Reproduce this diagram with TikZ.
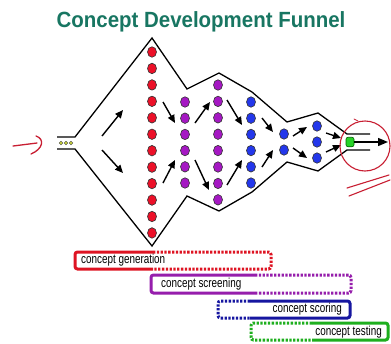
\documentclass[tikz,border=0pt]{standalone}
\usepackage{fontspec}
\setmainfont{Liberation Sans}
\usetikzlibrary{arrows.meta,shapes.geometric}
\definecolor{titlecol}{RGB}{24,118,98}
\definecolor{dred}{RGB}{236,16,40}
\definecolor{dpur}{RGB}{165,24,195}
\definecolor{dblue}{RGB}{35,55,235}
\definecolor{dgreen}{RGB}{40,210,40}
\definecolor{bred}{RGB}{222,20,35}
\definecolor{bpur}{RGB}{150,30,172}
\definecolor{bblue}{RGB}{22,22,160}
\definecolor{bgreen}{RGB}{30,175,30}
\definecolor{ink}{RGB}{200,30,50}
\definecolor{seed}{RGB}{200,210,60}
\begin{document}
\begin{tikzpicture}[x=1pt,y=-1pt,
  funnel/.style={draw=black,line width=1.3pt,line join=miter},
  dotnode/.style={ellipse,minimum width=9pt,minimum height=10.5pt,inner sep=0pt,draw=black!80,line width=0.6pt},
  rdot/.style={dotnode,fill=dred},
  pdot/.style={dotnode,fill=dpur},
  bdot/.style={dotnode,fill=dblue},
  arr/.style={line width=1.4pt,-{Triangle[length=8pt,width=7pt]}},
  bar/.style={line width=3pt,rounded corners=2.5pt},
  dots/.style={dash pattern=on 2.3pt off 1.5pt},
  bartext/.style={inner sep=0pt,font=\fontsize{13}{15}\selectfont},
  note/.style={draw=ink,line width=1.3pt,line cap=round}]
\useasboundingbox (0,0) rectangle (391,343);
\fill[white] (0,0) rectangle (391,343);
% title
\node[text=titlecol,font=\fontsize{22}{24}\selectfont\bfseries] (title) at (201,22) {\scalebox{0.93}[1]{Concept Development Funnel}};
% funnel outline
\draw[funnel] (57,137) -- (75,137) -- (152,38) -- (187,89) -- (219,73) -- (252,92) -- (287,122) -- (318,113) -- (347,134) -- (370,134);
\draw[funnel] (57,149) -- (75,149) -- (152,246) -- (187,196) -- (219,211) -- (252,192) -- (287,162) -- (318,171) -- (347,150) -- (370,150);
% seeds in tube
\foreach \x [count=\k] in {61,66,71}
  \node[circle,minimum size=3.8pt,inner sep=0pt,fill=seed,draw=black!70,line width=0.4pt] (s\k) at (\x,143) {};
% dots
\foreach \i in {0,...,11} \node[rdot] (r\i) at (152,{52+16.45*\i}) {};
\foreach \i in {0,...,5} \node[pdot] (pa\i) at (185,{102+16.2*\i}) {};
\foreach \i in {0,...,7} \node[pdot] (pb\i) at (218,{85+16.4*\i}) {};
\foreach \i in {0,...,5} \node[bdot] (ba\i) at (251,{102+16.2*\i}) {};
\foreach \y [count=\k] in {134,150} \node[bdot] (bb\k) at (284,\y) {};
\foreach \y [count=\k] in {126,142,158} \node[bdot] (bc\k) at (317,\y) {};
\node[rectangle,rounded corners=2pt,minimum width=8pt,minimum height=9.5pt,inner sep=0pt,fill=dgreen,draw=black!60!green,line width=0.6pt] (g) at (350,142) {};
% arrows
\foreach \a/\b/\c/\d [count=\k] in {102/136/123/110, 102/150/123/173, 163/102/175/123, 163/183/175/160,
  195/123/210/102, 195/160/209/190, 227/100/242/125, 227/185/242/160,
  262/118/273/132, 262/167/273/150, 293/136/307/127, 293/148/307/158,
  326/133/341/138, 326/152/341/145}
  \draw[arr] (\a,\b) coordinate (as\k) -- (\c,\d) coordinate (ae\k);
\coordinate (out) at (388,142);
\draw[line width=1.4pt,-{Triangle[length=10pt,width=8pt]}] (g.east) -- (out);
% red annotations
\draw[note] (13,146) -- (37,143);
\draw[note] (36,136) .. controls (45,139) and (43,149) .. (31,154);
\draw[note,line width=1.1pt] (365,146) circle[radius=25pt];
\draw[note,line width=0.8pt] (354,119) -- (358,121);
\draw[note,line width=1.1pt] (347,188) -- (389,175);
\draw[note,line width=1.1pt] (349,196) -- (390,180);
% bars
\draw[bar,draw=bred] (153,252) -- (75,252) -- (75,269) -- (153,269);
\draw[bar,draw=bred,dots] (153,252) -- (271,252) -- (271,269) -- (153,269);
\node[bartext,anchor=west] (t1) at (81,260) {\scalebox{0.76}[1]{concept generation}};
\draw[bar,draw=bpur] (255,275) -- (151,275) -- (151,293) -- (255,293);
\draw[bar,draw=bpur,dots] (255,275) -- (351,275) -- (351,293) -- (255,293);
\node[bartext,anchor=west] (t2) at (161,284) {\scalebox{0.76}[1]{concept screening}};
\draw[bar,draw=bblue] (250,301) -- (350,301) -- (350,318) -- (250,318);
\draw[bar,draw=bblue,dots] (250,301) -- (218,301) -- (218,318) -- (250,318);
\node[bartext,anchor=east] (t3) at (342,309) {\scalebox{0.76}[1]{concept scoring}};
\draw[bar,draw=bgreen] (312,323) -- (388,323) -- (388,340) -- (312,340);
\draw[bar,draw=bgreen,dots] (312,323) -- (251,323) -- (251,340) -- (312,340);
\node[bartext,anchor=east] (t4) at (382,332) {\scalebox{0.76}[1]{concept testing}};
\end{tikzpicture}
\end{document}
